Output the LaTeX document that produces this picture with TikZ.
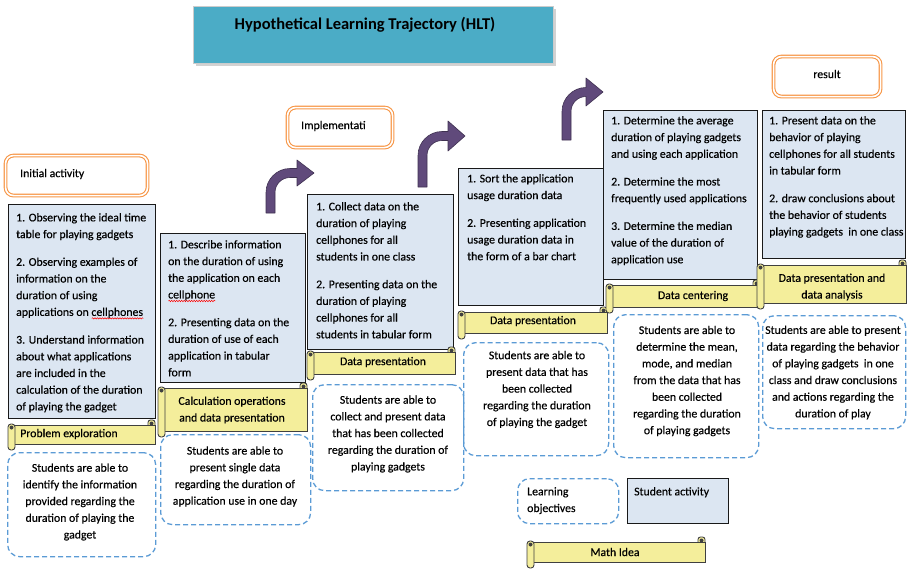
\documentclass[tikz,border=0pt]{standalone}
\usepackage{fontspec}
\setmainfont{Carlito}[UprightFeatures={FakeBold=0.35}]
\usetikzlibrary{shadows,decorations.pathmorphing}
\definecolor{actfill}{HTML}{DCE6F2}
\definecolor{scrollfill}{HTML}{F4EE9B}
\definecolor{dashblue}{HTML}{5B9BD5}
\definecolor{orangeb}{HTML}{F79646}
\definecolor{titlefill}{HTML}{4BACC6}
\definecolor{arrowfill}{HTML}{604A7B}
\definecolor{arrowline}{HTML}{3F3151}
\newcommand\redwave[1]{\setbox0\hbox{#1}\rlap{\tikz[baseline=0pt]\draw[red, line width=0.5pt, decorate, decoration={snake, amplitude=0.7pt, segment length=2.5pt}] (0pt,-2.5pt) -- (\the\wd0,-2.5pt);}\box0}
\tikzset{
  txt/.style={inner sep=0pt, font=\fontsize{11.8}{16.7}\selectfont, text=black},
  acttext/.style={txt, align=left, anchor=north west},
  objtext/.style={txt, align=center},
  actbox/.style={draw=black!90, line width=1.2pt, fill=actfill, anchor=north west, inner sep=0pt},
  objbox/.style={draw=dashblue, line width=1.3pt, dash pattern=on 5pt off 3pt, rounded corners=12pt, anchor=north west, inner sep=0pt},
  orangebox/.style={draw=orangeb, line width=1.1pt, double=white, double distance=1.6pt, rounded corners=8pt, fill=white, anchor=north west, inner sep=0pt},
  scrollbody/.style={draw=black!75, line width=0.9pt, fill=scrollfill, anchor=north west, inner sep=0pt},
  scrollline/.style={draw=black!75, line width=0.9pt, fill=scrollfill},
  bent/.style={fill=arrowfill, draw=arrowline, line width=0.6pt, line join=round},
}
\newcommand{\boxat}[6]{\node[#1, minimum width={#5-#3}, minimum height={#6-#4}] (#2) at (#3,#4) {};}
\newcommand{\scrollat}[5]{%
  \path[scrollline, rounded corners=2.5pt] ({#4-7},{#3}) rectangle ({#4},{#3+9});
  \node[scrollbody, minimum width={#4-#2-3}, minimum height={#5-#3-11}] (#1) at ({#2+3},{#3+5}) {};
  \path[scrollline, rounded corners=3pt] ({#2},{#3+4}) rectangle ({#2+7},{#5});
  \fill[black!75] ({#2+3.5},{#3+7.5}) circle (2pt);
  \fill[black!75] ({#4-3.5},{#3+3.5}) circle (2pt);
}
\newcommand{\bentarrow}[5]{%
  \path[bent] (#1,#2) -- (#1,{#2-#4+19.5})
   .. controls (#1,{#2-#4+6.3}) and ({#1+10.8},{#2-#4-4.5}) .. ({#1+24},{#2-#4-4.5})
   -- ({#1+#3-17},{#2-#4-4.5}) -- ({#1+#3-17},{#2-#4-#5}) -- ({#1+#3},{#2-#4})
   -- ({#1+#3-17},{#2-#4+#5}) -- ({#1+#3-17},{#2-#4+4.5}) -- ({#1+24},{#2-#4+4.5})
   .. controls ({#1+15.7},{#2-#4+4.5}) and ({#1+9},{#2-#4+11.2}) .. ({#1+9},{#2-#4+19.5})
   -- ({#1+9},#2) -- cycle;}
\begin{document}
\begin{tikzpicture}[x=1pt,y=-1pt]
\useasboundingbox[fill=white] (0,0) rectangle (908,573);

% title
\node[fill=titlefill, draw=black!20, line width=1pt, anchor=north west, minimum width=360, minimum height=57, inner sep=0pt,
  drop shadow={shadow xshift=2pt, shadow yshift=-2pt, opacity=0.35}] (title) at (193,6) {};
\node[inner sep=0pt, font=\fontsize{16.5}{19}\selectfont\bfseries, text=black] (titletext) at (365,24.5) {Hypothetical Learning Trajectory (HLT)};

% phase labels
\boxat{orangebox}{ia}{5}{155}{147}{195}
\node[txt, anchor=west] (iatext) at (20,174) {Initial activity};
\boxat{orangebox}{impl}{287}{107}{392}{147}
\node[txt, anchor=west] (impltext) at (301,126) {Implementati};
\boxat{orangebox}{res}{773}{56}{880}{96}
\node[txt] (restext) at (827,74) {result};

% arrows
\bentarrow{266}{213}{48}{40}{13}
\bentarrow{418}{187}{47}{51}{15}
\bentarrow{562}{140}{41}{48}{14}

% student activity boxes
\boxat{actbox}{b1}{8}{204}{155}{418}
\boxat{actbox}{b2}{160}{233}{305}{382}
\boxat{actbox}{b3}{307}{194}{453}{349}
\boxat{actbox}{b4}{458}{168}{603}{305}
\boxat{actbox}{b5}{603}{110}{757}{279}
\boxat{actbox}{b6}{762}{110}{905}{258}

\node[acttext] (t1) at (16,213) {1. Observing the ideal time\\table for playing gadgets\\[11pt]
2. Observing examples of\\information on the\\duration of using\\applications on \redwave{cellphones}\\[11pt]
3. Understand information\\about what applications\\are included in the\\calculation of the duration\\of playing the gadget};
\node[acttext] (t2) at (168,240) {1. Describe information\\on the duration of using\\the application on each\\\redwave{cellphone}\\[11pt]
2. Presenting data on the\\duration of use of each\\application in tabular\\form};
\node[acttext] (t3) at (316,202) {1. Collect data on the\\duration of playing\\cellphones for all\\students in one class\\[11pt]
2. Presenting data on the\\duration of playing\\cellphones for all\\students in tabular form};
\node[acttext] (t4) at (467,174) {1. Sort the application\\usage duration data\\[11pt]
2. Presenting application\\usage duration data in\\the form of a bar chart};
\node[acttext] (t5) at (611,116) {1. Determine the average\\duration of playing gadgets\\and using each application\\[11pt]
2. Determine the most\\frequently used applications\\[11pt]
3. Determine the median\\value of the duration of\\application use};
\node[acttext] (t6) at (769,116) {1. Present data on the\\behavior of playing\\cellphones for all students\\in tabular form\\[11pt]
2. draw conclusions about\\the behavior of students\\playing gadgets\ \ in one class};

% math idea scrolls
\scrollat{s1}{8}{420}{155}{450}
\node[txt, anchor=west] (s1t) at (20,434) {Problem exploration};
\scrollat{s2}{158}{383}{307}{437}
\node[objtext] (s2t) at (232,410) {Calculation operations\\and data presentation};
\scrollat{s3}{307}{347}{455}{380}
\node[txt] (s3t) at (383,362) {Data presentation};
\scrollat{s4}{458}{307}{607}{339}
\node[txt] (s4t) at (533,321) {Data presentation};
\scrollat{s5}{606}{280}{760}{313}
\node[txt] (s5t) at (693,296) {Data centering};
\scrollat{s6}{757}{260}{906}{309}
\node[objtext] (s6t) at (832,287) {Data presentation and\\data analysis};

% learning objectives
\boxat{objbox}{o1}{7}{452}{155}{556}
\node[objtext] (o1t) at (80,502) {Students are able to\\identify the information\\provided regarding the\\duration of playing the\\gadget};
\boxat{objbox}{o2}{160}{434}{310}{524}
\node[objtext] (o2t) at (235,476.5) {Students are able to\\present single data\\regarding the duration of\\application use in one day};
\boxat{objbox}{o3}{312}{384}{463}{490}
\node[objtext] (o3t) at (388,434) {Students are able to\\collect and present data\\that has been collected\\regarding the duration of\\playing gadgets};
\boxat{objbox}{o4}{463}{342}{608}{455}
\node[objtext] (o4t) at (537,389.5) {Students are able to\\present data that has\\been collected\\regarding the duration\\of playing the gadget};
\boxat{objbox}{o5}{613}{314}{758}{457}
\node[objtext] (o5t) at (687,381) {Students are able to\\determine the mean,\\mode, and median\\from the data that has\\been collected\\regarding the duration\\of playing gadgets};
\boxat{objbox}{o6}{762}{315}{905}{428}
\node[objtext] (o6t) at (833,372.5) {Students are able to present\\data regarding the behavior\\of playing gadgets\ \ in one\\class and draw conclusions\\and actions regarding the\\duration of play};

% legend
\boxat{objbox}{lo}{517}{478}{618}{523}
\node[acttext] (lot) at (527,487) {Learning\\objectives};
\boxat{actbox}{la}{627}{478}{728}{523}
\node[acttext] (lat) at (634,487) {Student activity};
\scrollat{lm}{527}{537}{705}{568}
\node[txt] (lmt) at (615,552) {Math Idea};
\end{tikzpicture}
\end{document}
